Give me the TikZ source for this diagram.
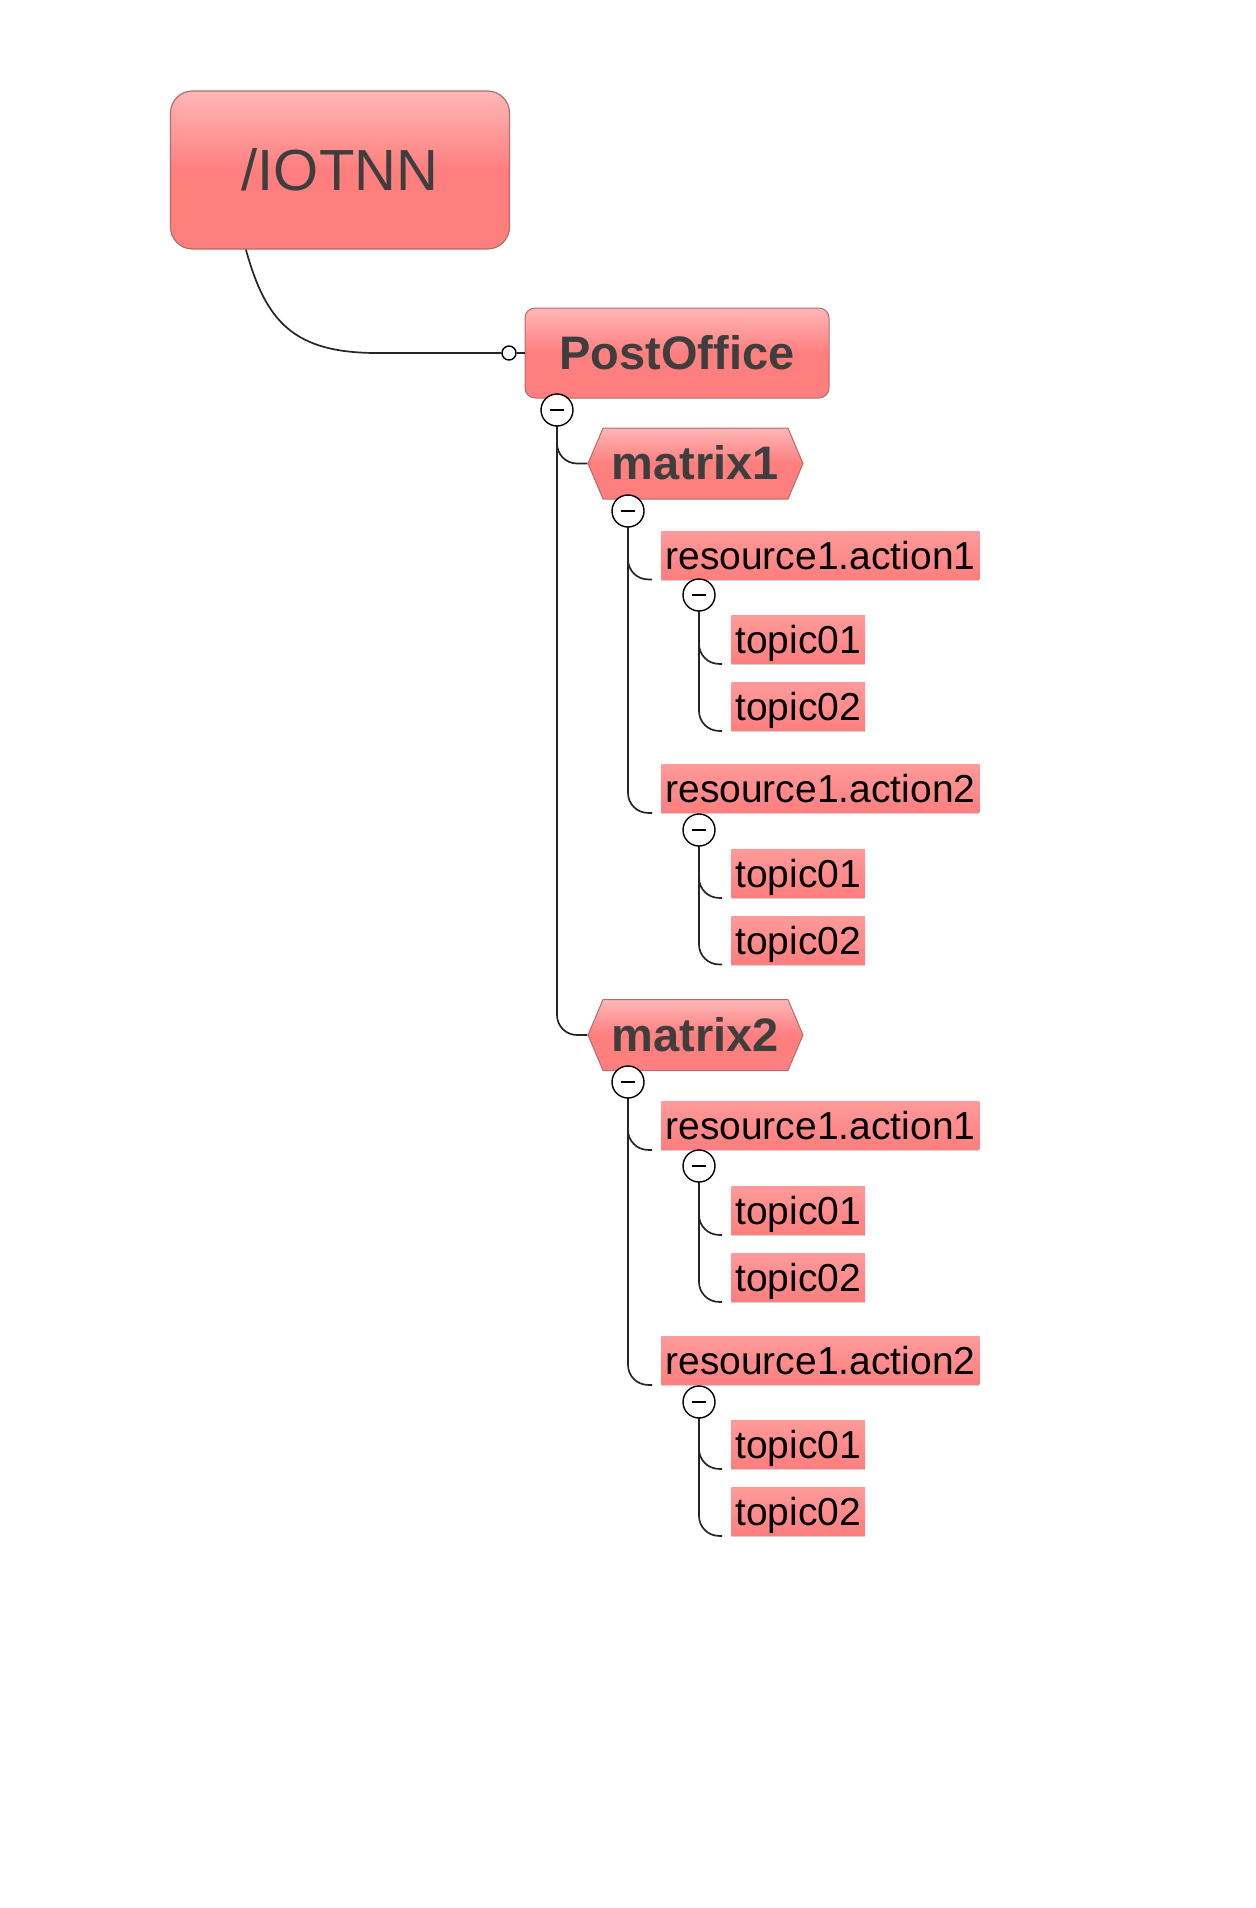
\documentclass[tikz,border=0pt]{standalone}
\usepackage{fontspec}
\setmainfont{Liberation Sans}
\usetikzlibrary{shapes.symbols,shadows,positioning}
\definecolor{nodeHi}{HTML}{FFB7B7}
\definecolor{nodeLo}{HTML}{FF7E7E}
\definecolor{leafHi}{HTML}{FF9A9A}
\definecolor{nodeEdge}{HTML}{B86A6A}
\definecolor{labelGray}{HTML}{3E3E3E}
\definecolor{wireGray}{HTML}{262626}
\tikzset{
  rootbox/.style={draw=nodeEdge, line width=0.6pt, rounded corners=11pt, top color=nodeHi, bottom color=nodeLo, middle color=nodeLo, minimum width=169.5pt, minimum height=79pt, text=labelGray, text height=20pt, text depth=0pt, font=\fontsize{29}{30}\selectfont},
  officebox/.style={draw=nodeEdge, line width=0.5pt, rounded corners=5pt, top color=nodeHi, bottom color=nodeLo, middle color=nodeLo, minimum width=152pt, minimum height=45pt, text=labelGray, text height=16pt, text depth=0pt, font=\bfseries\fontsize{23.5}{24}\selectfont},
  matrixbox/.style={signal, signal to=west and east, signal pointer angle=134, draw=nodeEdge, line width=0.5pt, top color=nodeHi, bottom color=nodeLo, middle color=nodeLo, minimum width=107.5pt, minimum height=35.5pt, inner sep=2pt, text=labelGray, text height=16pt, text depth=0pt, font=\bfseries\fontsize{23.5}{24}\selectfont},
  leafbox/.style={anchor=west, inner xsep=2pt, inner ysep=5pt, minimum height=24pt, top color=leafHi, bottom color=nodeLo, text height=14pt, text depth=0pt, drop shadow={shadow xshift=0pt, shadow yshift=-0.8pt, opacity=0.35, fill=black!50}, font=\fontsize{19.5}{20}\selectfont},
  toggle/.style={circle, draw=black, line width=0.7pt, fill=white, minimum size=16pt, inner sep=0pt, path picture={\draw[line width=0.8pt] ([xshift=-3.5pt]path picture bounding box.center) -- ([xshift=3.5pt]path picture bounding box.center);}},
  port/.style={circle, draw=black, line width=0.7pt, fill=white, minimum size=7pt, inner sep=0pt},
  wire/.style={draw=wireGray, line width=0.85pt},
  branch/.style={wire, rounded corners=10pt}
}
\begin{document}
\begin{tikzpicture}[x=0.5pt, y=-0.5pt]
            \useasboundingbox (0,0) rectangle (1256,1908);
            \node[rootbox] (iotnn) at (340,170) {/IOTNN};
            \node[officebox] (postOffice) at (677,353) {PostOffice};
            \node[port] (postOfficeIn) at (509,353) {};
            \node[matrixbox] (mOne) at (695.5,463.5) {matrix1};
            \node[leafbox] (mOneAct1) at (661,555) {resource1.action1};
            \node[leafbox] (mOneAct1Top1) at (731,639.5) {topic01};
            \node[leafbox] (mOneAct1Top2) at (731,706.5) {topic02};
            \node[leafbox] (mOneAct2) at (661,788.5) {resource1.action2};
            \node[leafbox] (mOneAct2Top1) at (731,873.5) {topic01};
            \node[leafbox] (mOneAct2Top2) at (731,940) {topic02};
            \node[matrixbox] (mTwo) at (695.5,1035) {matrix2};
            \node[leafbox] (mTwoAct1) at (661,1125.5) {resource1.action1};
            \node[leafbox] (mTwoAct1Top1) at (731,1210.5) {topic01};
            \node[leafbox] (mTwoAct1Top2) at (731,1277.5) {topic02};
            \node[leafbox] (mTwoAct2) at (661,1360.5) {resource1.action2};
            \node[leafbox] (mTwoAct2Top1) at (731,1444.5) {topic01};
            \node[leafbox] (mTwoAct2Top2) at (731,1511.5) {topic02};
            \draw[wire] ([xshift=38pt]iotnn.south west) .. controls +(10pt,-36pt) and +(-42pt,0pt) .. ([xshift=-62pt]postOfficeIn.west) -- (postOfficeIn.west);
            \draw[wire] (postOfficeIn.east) -- (postOffice.west);
            \draw[branch] (557,410) |- (mOne.west);
            \draw[branch] (557,410) |- (mTwo.west);
            \draw[branch] (628,511) |- ([xshift=-4.5pt]mOneAct1.south west);
            \draw[branch] (628,511) |- ([xshift=-4.5pt]mOneAct2.south west);
            \draw[branch] (699,595) |- ([xshift=-4.5pt]mOneAct1Top1.south west);
            \draw[branch] (699,595) |- ([xshift=-4.5pt]mOneAct1Top2.south west);
            \draw[branch] (699,830) |- ([xshift=-4.5pt]mOneAct2Top1.south west);
            \draw[branch] (699,830) |- ([xshift=-4.5pt]mOneAct2Top2.south west);
            \draw[branch] (628,1082) |- ([xshift=-4.5pt]mTwoAct1.south west);
            \draw[branch] (628,1082) |- ([xshift=-4.5pt]mTwoAct2.south west);
            \draw[branch] (699,1166) |- ([xshift=-4.5pt]mTwoAct1Top1.south west);
            \draw[branch] (699,1166) |- ([xshift=-4.5pt]mTwoAct1Top2.south west);
            \draw[branch] (699,1402) |- ([xshift=-4.5pt]mTwoAct2Top1.south west);
            \draw[branch] (699,1402) |- ([xshift=-4.5pt]mTwoAct2Top2.south west);
            \node[toggle] (postOfficeTg) at (557,410) {};
            \node[toggle] (mOneTg) at (628,511) {};
            \node[toggle] (mOneAct1Tg) at (699,595) {};
            \node[toggle] (mOneAct2Tg) at (699,830) {};
            \node[toggle] (mTwoTg) at (628,1082) {};
            \node[toggle] (mTwoAct1Tg) at (699,1166) {};
            \node[toggle] (mTwoAct2Tg) at (699,1402) {};
        \end{tikzpicture}
\end{document}
